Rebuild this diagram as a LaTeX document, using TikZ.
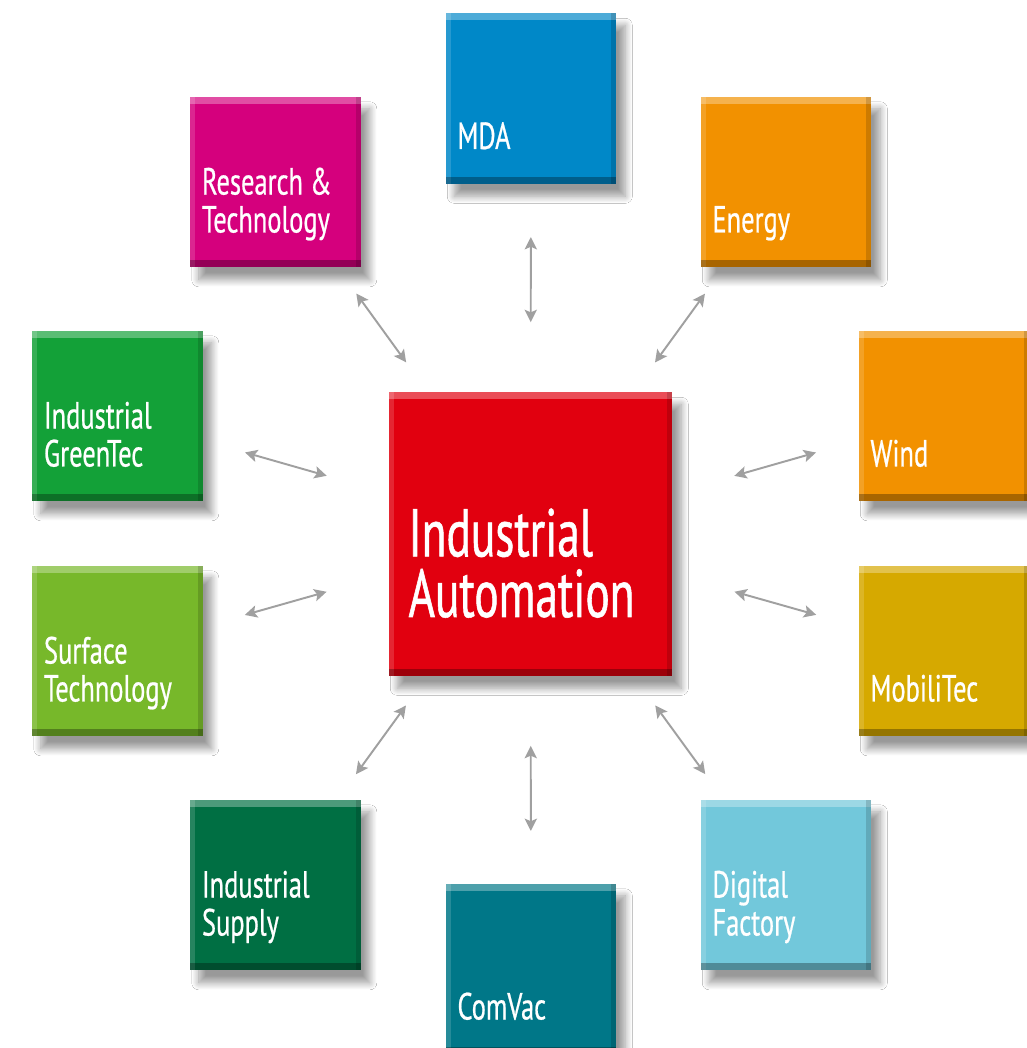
\documentclass[tikz,border=0pt]{standalone}
\usepackage{fontspec}
\setmainfont[FakeStretch=0.7, FakeBold=0.6]{PT Sans}
\newfontfamily\bigfont[FakeStretch=0.67, FakeBold=0.8]{PT Sans}
\usetikzlibrary{arrows.meta,calc,shadows.blur}

\definecolor{redIA}{HTML}{E1000F}
\definecolor{blueMDA}{HTML}{0088C8}
\definecolor{magentaRT}{HTML}{D5007D}
\definecolor{orangeEN}{HTML}{F29100}
\definecolor{greenGT}{HTML}{13A138}
\definecolor{greenST}{HTML}{77B82A}
\definecolor{goldMT}{HTML}{D6A900}
\definecolor{greenIS}{HTML}{006F43}
\definecolor{cyanDF}{HTML}{72C8DB}
\definecolor{tealCV}{HTML}{007788}
\definecolor{linkgray}{HTML}{A0A0A0}

\tikzset{
  box/.style={rectangle, minimum size=3.42cm, inner sep=0pt,
    blur shadow={shadow xshift=5pt, shadow yshift=-7pt, shadow blur radius=4pt,
      shadow blur steps=12, shadow opacity=40},
    path picture={
      \fill[white, opacity=.3] (path picture bounding box.north west) rectangle ([yshift=-4pt]path picture bounding box.north east);
      \fill[white, opacity=.15] (path picture bounding box.north west) rectangle ([xshift=3pt]path picture bounding box.south west);
      \fill[black, opacity=.3] (path picture bounding box.south west) rectangle ([yshift=4pt]path picture bounding box.south east);
      \fill[black, opacity=.15] ([xshift=-3pt]path picture bounding box.north east) rectangle (path picture bounding box.south east);
    }},
  bigbox/.style={box, minimum size=5.68cm},
  boxtext/.style={anchor=south west, inner sep=0pt, text depth=0pt, align=left,
    text=white, font=\fontsize{21.5}{21.6}\selectfont},
  bigboxtext/.style={boxtext, font=\bigfont\fontsize{38.5}{34.5}\selectfont},
  link/.style={{Stealth[length=7pt,width=7pt,inset=1.5pt]}-{Stealth[length=7pt,width=7pt,inset=1.5pt]},
    draw=linkgray, line width=1.1pt},
}

\begin{document}
\begin{tikzpicture}[x=0.02cm, y=-0.02cm]
  \fill[white] (0,0) rectangle (1027,1048);
  \useasboundingbox (0,0) rectangle (1027,1048);
  % Boxes
  \node[bigbox, fill=redIA] (0) at (530.5,534) {};
  \node[box, fill=blueMDA] (1) at (531,98.5) {};
  \node[box, fill=orangeEN] (2) at (786,182) {};
  \node[box, fill=orangeEN] (3) at (944,416) {};
  \node[box, fill=goldMT] (4) at (944,651) {};
  \node[box, fill=cyanDF] (5) at (786,885) {};
  \node[box, fill=tealCV] (6) at (531,969) {};
  \node[box, fill=greenIS] (7) at (275.5,885) {};
  \node[box, fill=greenST] (8) at (117.5,651) {};
  \node[box, fill=greenGT] (9) at (117.5,416) {};
  \node[box, fill=magentaRT] (10) at (275.5,182) {};
  % Box titles
  \node[bigboxtext] (0t) at ([xshift=0.4cm, yshift=1.18cm]0.south west) {Industrial\\Automation};
  \node[boxtext] (1t) at ([xshift=0.24cm, yshift=0.7cm]1.south west) {MDA};
  \node[boxtext] (2t) at ([xshift=0.24cm, yshift=0.7cm]2.south west) {Energy};
  \node[boxtext] (3t) at ([xshift=0.24cm, yshift=0.7cm]3.south west) {Wind};
  \node[boxtext] (4t) at ([xshift=0.24cm, yshift=0.7cm]4.south west) {MobiliTec};
  \node[boxtext] (5t) at ([xshift=0.24cm, yshift=0.7cm]5.south west) {Digital\\Factory};
  \node[boxtext] (6t) at ([xshift=0.24cm, yshift=0.7cm]6.south west) {ComVac};
  \node[boxtext] (7t) at ([xshift=0.24cm, yshift=0.7cm]7.south west) {Industrial\\Supply};
  \node[boxtext] (8t) at ([xshift=0.24cm, yshift=0.7cm]8.south west) {Surface\\Technology};
  \node[boxtext] (9t) at ([xshift=0.24cm, yshift=0.7cm]9.south west) {Industrial\\GreenTec};
  \node[boxtext] (10t) at ([xshift=0.24cm, yshift=0.7cm]10.south west) {Research \&\\Technology};
  % Draw the links
  \draw[link] ($(0.center)!4.24cm!(1.center)$) -- ($(0.center)!5.94cm!(1.center)$);
  \draw[link] ($(0.center)!4.24cm!(2.center)$) -- ($(0.center)!5.94cm!(2.center)$);
  \draw[link] ($(0.center)!4.24cm!(3.center)$) -- ($(0.center)!5.94cm!(3.center)$);
  \draw[link] ($(0.center)!4.24cm!(4.center)$) -- ($(0.center)!5.94cm!(4.center)$);
  \draw[link] ($(0.center)!4.24cm!(5.center)$) -- ($(0.center)!5.94cm!(5.center)$);
  \draw[link] ($(0.center)!4.24cm!(6.center)$) -- ($(0.center)!5.94cm!(6.center)$);
  \draw[link] ($(0.center)!4.24cm!(7.center)$) -- ($(0.center)!5.94cm!(7.center)$);
  \draw[link] ($(0.center)!4.24cm!(8.center)$) -- ($(0.center)!5.94cm!(8.center)$);
  \draw[link] ($(0.center)!4.24cm!(9.center)$) -- ($(0.center)!5.94cm!(9.center)$);
  \draw[link] ($(0.center)!4.24cm!(10.center)$) -- ($(0.center)!5.94cm!(10.center)$);
\end{tikzpicture}
\end{document}
